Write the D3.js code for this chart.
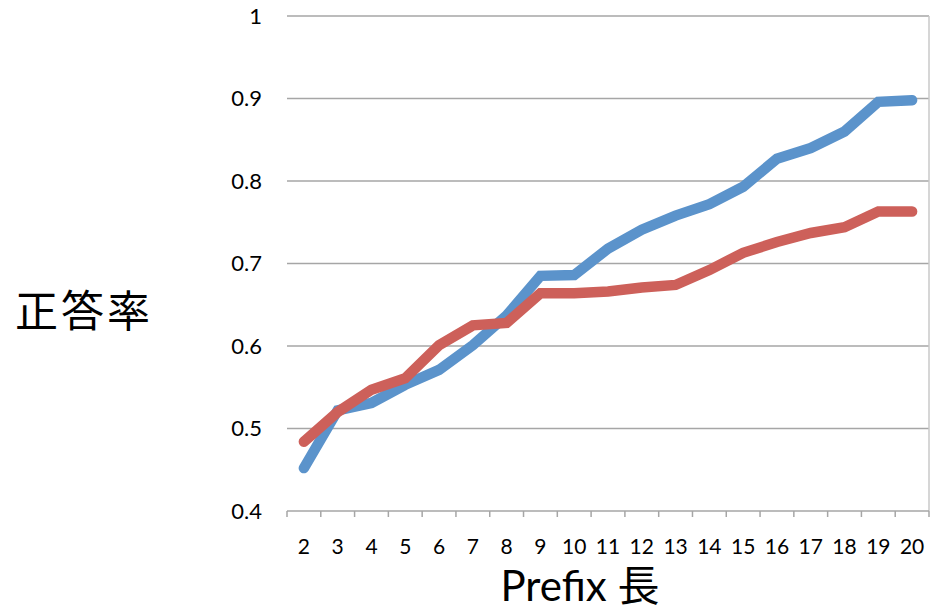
<!DOCTYPE html>
<html><head><meta charset="utf-8">
<script src="https://cdn.jsdelivr.net/npm/d3@7"></script>
<style>
html,body{margin:0;padding:0;background:#fff;}
svg{display:block;}
</style></head>
<body>
<svg id="chart" width="930" height="611"></svg>
<script>
const categories = ["2","3","4","5","6","7","8","9","10","11","12","13","14","15","16","17","18","19","20"];
const blueValues = [0.452,0.522,0.531,0.553,0.571,0.601,0.637,0.685,0.686,0.718,0.741,0.758,0.772,0.793,0.827,0.840,0.860,0.896,0.898];
const redValues  = [0.484,0.520,0.547,0.561,0.601,0.625,0.628,0.664,0.664,0.666,0.671,0.674,0.692,0.713,0.726,0.737,0.744,0.763,0.763];
const yTicks = [0.4,0.5,0.6,0.7,0.8,0.9,1];
const yTickLabels = ["0.4","0.5","0.6","0.7","0.8","0.9","1"];
const yTitle = "正答率";
const xTitle = "Prefix 長";

const svg = d3.select("#chart");
const pLeft = 287, pRight = 929, pTop = 16, pBottom = 511;
const font = "Lato, 'Open Sans', 'Noto Sans', sans-serif";

const x = d3.scaleBand().domain(categories).range([pLeft, pRight]).padding(0);
const y = d3.scaleLinear().domain([0.4, 1]).range([pBottom, pTop]);
const xi = d3.scaleLinear().domain([0, categories.length]).range([pLeft, pRight]);

// gridlines
svg.append("g").selectAll("line").data(yTicks.slice(1)).join("line")
  .attr("x1", pLeft).attr("x2", pRight)
  .attr("y1", d => y(d)).attr("y2", d => y(d))
  .attr("stroke", "#a6a6a6").attr("stroke-width", 1.5);

// right border
svg.append("line").attr("x1", pRight).attr("x2", pRight).attr("y1", pTop).attr("y2", pBottom)
  .attr("stroke", "#c8c8c8").attr("stroke-width", 1.5);

// y axis labels
const yAxis = d3.axisLeft(y).tickValues(yTicks).tickFormat((d,i) => yTickLabels[i]).tickSize(0).tickPadding(25);
const gy = svg.append("g").attr("transform", `translate(${pLeft},0)`).call(yAxis);
gy.select(".domain").remove();
gy.selectAll("text").attr("font-family", font).attr("font-size", 22).attr("fill", "#000");

// x axis line + ticks at boundaries
svg.append("line").attr("x1", pLeft).attr("x2", pRight).attr("y1", pBottom).attr("y2", pBottom)
  .attr("stroke", "#a6a6a6").attr("stroke-width", 1.5);
svg.append("g").selectAll("line").data(d3.range(categories.length + 1)).join("line")
  .attr("x1", d => xi(d)).attr("x2", d => xi(d))
  .attr("y1", pBottom).attr("y2", pBottom + 6)
  .attr("stroke", "#a6a6a6").attr("stroke-width", 1.5);

const xAxis = d3.axisBottom(x).tickSize(0).tickPadding(28);
const gx = svg.append("g").attr("transform", `translate(0,${pBottom})`).call(xAxis);
gx.select(".domain").remove();
gx.selectAll("text").attr("font-family", font).attr("font-size", 21).attr("fill", "#000");

// lines
const line = d3.line().x((d,i) => x(categories[i]) + x.bandwidth()/2).y(d => y(d));
svg.append("path").datum(blueValues).attr("d", line)
  .attr("fill", "none").attr("stroke", "#5b93cb").attr("stroke-width", 10.5)
  .attr("stroke-linecap", "round").attr("stroke-linejoin", "miter");
svg.append("path").datum(redValues).attr("d", line)
  .attr("fill", "none").attr("stroke", "#cd605a").attr("stroke-width", 10.5)
  .attr("stroke-linecap", "round").attr("stroke-linejoin", "miter");

// titles
svg.append("text").attr("x", 84).attr("y", 327).attr("text-anchor", "middle")
  .attr("font-family", "'Noto Sans CJK JP', sans-serif").attr("font-size", 43)
  .attr("letter-spacing", 3).attr("fill", "#000").text(yTitle);
svg.append("text").attr("x", 580).attr("y", 601).attr("text-anchor", "middle")
  .attr("font-family", "Lato, 'Noto Sans CJK JP', sans-serif").attr("font-size", 42)
  .attr("fill", "#000").text(xTitle);
</script>
</body></html>
